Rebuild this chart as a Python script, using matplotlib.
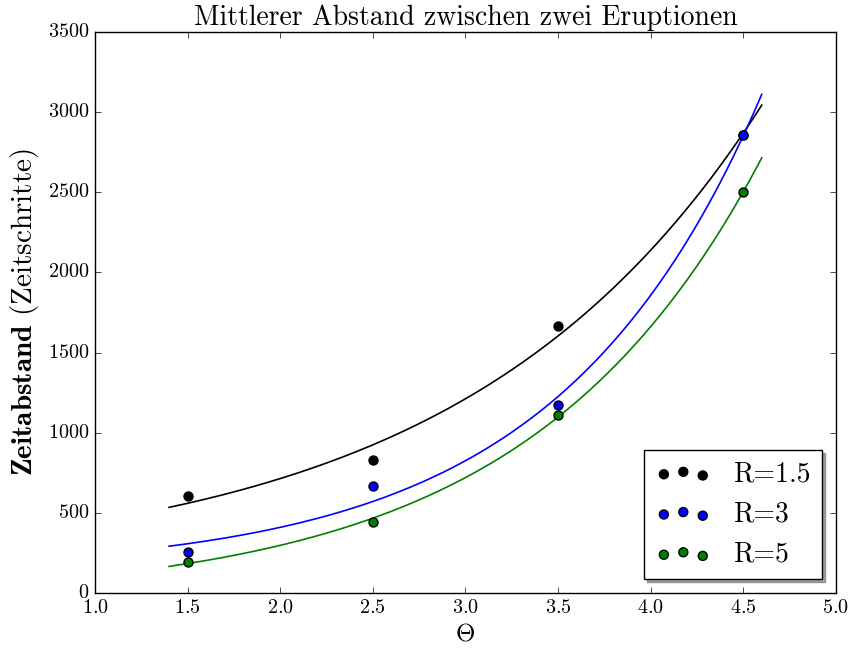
import numpy as np
import matplotlib
matplotlib.use("Agg")
import matplotlib.pyplot as plt

plt.style.use("classic")
plt.rcParams["font.family"] = "cmr10"
plt.rcParams["mathtext.fontset"] = "cm"
plt.rcParams["axes.formatter.use_mathtext"] = True

# measured data
theta = np.array([1.5, 2.5, 3.5, 4.5])
r_labels = ["R=1.5", "R=3", "R=5"]
t_r15 = np.array([605, 830, 1665, 2855])
t_r3 = np.array([255, 665, 1175, 2860])
t_r5 = np.array([195, 445, 1110, 2500])
colors = ["black", "blue", "green"]


def fit_exp(x, y, iters=500):
    """least squares fit y = a*exp(b*x) + c (Levenberg-Marquardt)"""
    b, la = np.polyfit(x, np.log(y), 1)
    p = np.array([np.exp(la), b, 0.0])

    def model(p):
        return p[0] * np.exp(p[1] * x) + p[2]

    lam = 1e-3
    err = np.sum((y - model(p)) ** 2)
    for _ in range(iters):
        e = np.exp(p[1] * x)
        J = np.column_stack([e, p[0] * x * e, np.ones_like(x)])
        r = y - model(p)
        A = J.T @ J
        g = J.T @ r
        step = np.linalg.solve(A + lam * np.diag(np.diag(A)), g)
        new = p + step
        new_err = np.sum((y - model(new)) ** 2)
        if new_err < err:
            p, err = new, new_err
            lam *= 0.5
        else:
            lam *= 4
    return p


fig = plt.figure(figsize=(8.52, 6.52), dpi=100, facecolor="white")
ax = fig.add_axes([0.1115, 0.0905, 0.8695, 0.8605])

xfit = np.linspace(1.4, 4.6, 200)
for y, lab, c in zip([t_r15, t_r3, t_r5], r_labels, colors):
    a, b, off = fit_exp(theta, y.astype(float))
    ax.plot(xfit, a * np.exp(b * xfit) + off, color=c, lw=1.2)
    ax.scatter(theta, y, s=42, c=c, edgecolors="black", label=lab, zorder=3)

ax.set_xlim(1.0, 5.0)
ax.set_ylim(0, 3500)
ax.tick_params(labelsize=14.5)
ax.set_title("Mittlerer Abstand zwischen zwei Eruptionen", fontsize=20)
ax.set_xlabel(r"$\Theta$", fontsize=18)
ax.set_ylabel(r"$\mathbf{Zeitabstand}$ (Zeitschritte)", fontsize=21)

ax.legend(loc="lower right", scatterpoints=3, shadow=True, fontsize=20)

fig.savefig("out.png", dpi=100, facecolor="white")
